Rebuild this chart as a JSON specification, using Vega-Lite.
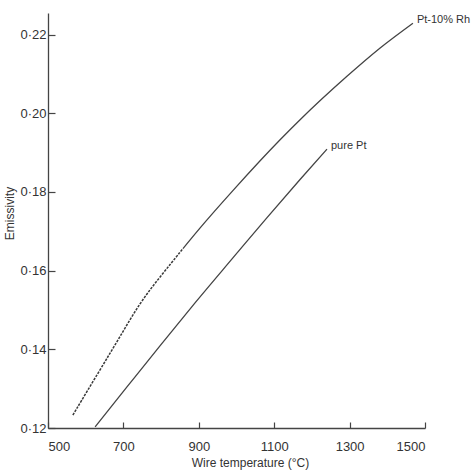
{
  "$schema": "https://vega.github.io/schema/vega-lite/v6.json",
  "width": 377,
  "height": 415,
  "autosize": {"type": "none"},
  "padding": {"left": 48, "top": 13, "right": 51, "bottom": 46},
  "background": "white",
  "config": {
    "view": {"stroke": null},
    "font": "Liberation Sans",
    "axis": {
      "grid": false,
      "domainColor": "#444",
      "domainWidth": 1.3,
      "tickColor": "#444",
      "tickWidth": 1.2,
      "labelColor": "#333",
      "titleColor": "#333",
      "labelFont": "Liberation Sans",
      "titleFont": "Liberation Sans",
      "titleFontWeight": "normal"
    }
  },
  "datasets": {
    "curves": [
      {"series": "Pt-10% Rh", "T": 566, "E": 0.1233},
      {"series": "Pt-10% Rh", "T": 638, "E": 0.1348},
      {"series": "Pt-10% Rh", "T": 691, "E": 0.1432},
      {"series": "Pt-10% Rh", "T": 744, "E": 0.1519},
      {"series": "Pt-10% Rh", "T": 797, "E": 0.1584},
      {"series": "Pt-10% Rh", "T": 858, "E": 0.1656},
      {"series": "Pt-10% Rh", "T": 903, "E": 0.1708},
      {"series": "Pt-10% Rh", "T": 991, "E": 0.1804},
      {"series": "Pt-10% Rh", "T": 1115, "E": 0.1932},
      {"series": "Pt-10% Rh", "T": 1168, "E": 0.1983},
      {"series": "Pt-10% Rh", "T": 1293, "E": 0.2094},
      {"series": "Pt-10% Rh", "T": 1381, "E": 0.2166},
      {"series": "Pt-10% Rh", "T": 1468, "E": 0.2229},
      {"series": "pure Pt", "T": 625, "E": 0.1203},
      {"series": "pure Pt", "T": 710, "E": 0.1305},
      {"series": "pure Pt", "T": 797, "E": 0.1409},
      {"series": "pure Pt", "T": 890, "E": 0.1518},
      {"series": "pure Pt", "T": 991, "E": 0.1633},
      {"series": "pure Pt", "T": 1081, "E": 0.1735},
      {"series": "pure Pt", "T": 1168, "E": 0.1831},
      {"series": "pure Pt", "T": 1240, "E": 0.1909}
    ],
    "labels": [
      {"label": "Pt-10% Rh", "T": 1468, "E": 0.2229},
      {"label": "pure Pt", "T": 1240, "E": 0.1909}
    ]
  },
  "encoding": {
    "x": {
      "field": "T", "type": "quantitative",
      "scale": {"domain": [500, 1500], "nice": false, "zero": false},
      "axis": {
        "title": "Wire temperature (°C)",
        "values": [500, 700, 900, 1100, 1300, 1500],
        "tickSize": -6,
        "labelPadding": 18,
        "labelFontSize": 13,
        "titleFontSize": 12,
        "titlePadding": 4,
        "titleX": 202,
        "labelFlush": true,
        "format": "d"
      }
    },
    "y": {
      "field": "E", "type": "quantitative",
      "scale": {"domain": [0.12, 0.2255], "nice": false, "zero": false},
      "axis": {
        "title": "Emissivity",
        "values": [0.12, 0.14, 0.16, 0.18, 0.20, 0.22],
        "labelExpr": "replace(format(datum.value, '.2f'), '.', '·')",
        "tickSize": -7,
        "labelPadding": 9,
        "labelFontSize": 13,
        "titleFontSize": 12,
        "titlePadding": 3,
        "titleY": 200,
        "labelFlush": false
      }
    }
  },
  "layer": [
    {
      "data": {"name": "curves"},
      "transform": [{"filter": "datum.series == 'Pt-10% Rh' && datum.T <= 860"}],
      "mark": {"type": "line", "color": "#3a3a3a", "strokeWidth": 1.5, "strokeDash": [2.5, 1.2], "interpolate": "basis"},
      "encoding": {"detail": {"field": "series"}}
    },
    {
      "data": {"name": "curves"},
      "transform": [{"filter": "datum.series == 'pure Pt' || datum.T >= 858"}],
      "mark": {"type": "line", "color": "#444", "strokeWidth": 1.3, "interpolate": "monotone"},
      "encoding": {"detail": {"field": "series"}}
    },
    {
      "data": {"name": "labels"},
      "mark": {"type": "text", "align": "left", "baseline": "middle", "dx": 4, "dy": -3, "fontSize": 11, "color": "#333"},
      "encoding": {"text": {"field": "label"}}
    }
  ]
}
